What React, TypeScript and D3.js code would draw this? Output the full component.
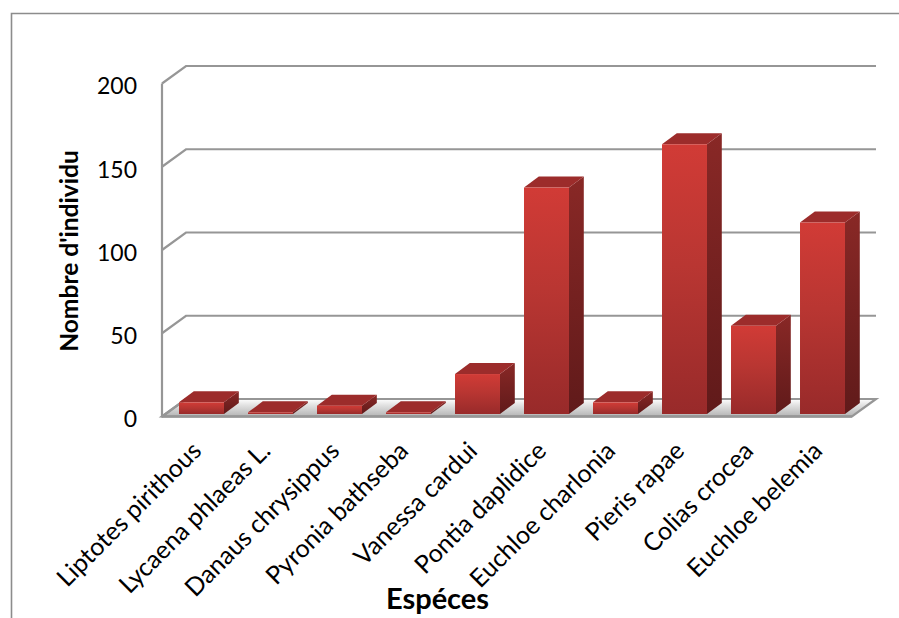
import React from "react";
import * as d3 from "d3";

const species = ["Liptotes pirithous","Lycaena phlaeas L.","Danaus chrysippus","Pyronia bathseba","Vanessa cardui","Pontia daplidice","Euchloe charlonia","Pieris rapae","Colias crocea","Euchloe belemia"];
const counts = [7,1,5,1,24,136,7,162,53,115];
const yTicks = [0,50,100,150,200];
const yTitle = "Nombre d'individu";
const xTitle = "Espéces";

const W = 899, H = 618;
const FONT = "Lato, Carlito, sans-serif";

export default function App() {
  const x = d3.scaleBand<string>().domain(species).range([162, 852]).paddingInner(0.348).paddingOuter(0.174);
  const y = d3.scaleLinear().domain([0, 200]).range([416.5, 83.5]);
  const wallDx = 24, wallDy = -17.5;
  const barDx = 14.8, barDy = -11, shiftX = 5, shiftY = -2.5;
  const floor = y(0);
  const right = x.range()[1], left = x.range()[0];
  const pts = (a: number[][]) => a.map(p => p.join(",")).join(" ");
  return (
    <svg width={W} height={H} style={{ position: "absolute", left: 0, top: 0, background: "#fff" }}>
      <defs>
        <linearGradient id="front" x1="0" y1="0" x2="0" y2="1">
          <stop offset="0" stopColor="#d13b36" />
          <stop offset="0.45" stopColor="#b93632" />
          <stop offset="1" stopColor="#982a2a" />
        </linearGradient>
        <linearGradient id="side" x1="0" y1="0" x2="0" y2="1">
          <stop offset="0" stopColor="#892826" />
          <stop offset="1" stopColor="#601a1a" />
        </linearGradient>
        <linearGradient id="floorG" x1="0" y1="0" x2="0" y2="1">
          <stop offset="0" stopColor="#ffffff" />
          <stop offset="0.35" stopColor="#e2e2e2" />
          <stop offset="1" stopColor="#b4b4b4" />
        </linearGradient>
      </defs>
      <path d={`M11.5,${H} V13.5 H${W}`} fill="none" stroke="#8c8c8c" strokeWidth={1.6} />
      <polygon points={pts([[left, floor], [left + wallDx, floor + wallDy], [right + wallDx, floor + wallDy], [right, floor]])} fill="url(#floorG)" stroke="#969696" strokeWidth={2.2} />
      {yTicks.map(t => (
        <g key={t}>
          <polyline points={pts([[left, y(t)], [left + wallDx, y(t) + wallDy], [right + wallDx, y(t) + wallDy]])} fill="none" stroke="#969696" strokeWidth={2.2} />
          <text x={137} y={y(t) + 2.5} dy="0.36em" textAnchor="end" fontFamily={FONT} fontSize={23} fill="#000">{t}</text>
        </g>
      ))}
      <line x1={left} x2={left} y1={y(200)} y2={floor + 1} stroke="#969696" strokeWidth={2.2} />
      <line x1={left} x2={right} y1={floor} y2={floor} stroke="#969696" strokeWidth={2.6} />
      {species.map((s, i) => {
        const x0 = x(s)! + shiftX, w = x.bandwidth();
        const b = floor + shiftY, t = y(counts[i]) + shiftY;
        return (
          <g key={s}>
            <polygon points={pts([[x0 + w, t], [x0 + w + barDx, t + barDy], [x0 + w + barDx, b + barDy], [x0 + w, b]])} fill="url(#side)" />
            <polygon points={pts([[x0, t], [x0 + barDx, t + barDy], [x0 + w + barDx, t + barDy], [x0 + w, t]])} fill="#9c2c2b" />
            <rect x={x0} y={t} width={w} height={b - t} fill="url(#front)" />
          </g>
        );
      })}
      {species.map(s => {
        const lx = x(s)! + x.bandwidth() / 2 - 8, ly = 440;
        return (
          <text key={s} transform={`translate(${lx + 2},${ly}) rotate(-45)`} textAnchor="end" dy="0.7em" fontFamily={FONT} fontSize={25} fill="#000">{s}</text>
        );
      })}
      <text transform="translate(78,251) rotate(-90)" textAnchor="middle" fontFamily={FONT} fontWeight={700} fontSize={24.6} fill="#000">{yTitle}</text>
      <text x={437.5} y={609} textAnchor="middle" fontFamily={FONT} fontWeight={700} fontSize={29} fill="#000">{xTitle}</text>
    </svg>
  );
}
